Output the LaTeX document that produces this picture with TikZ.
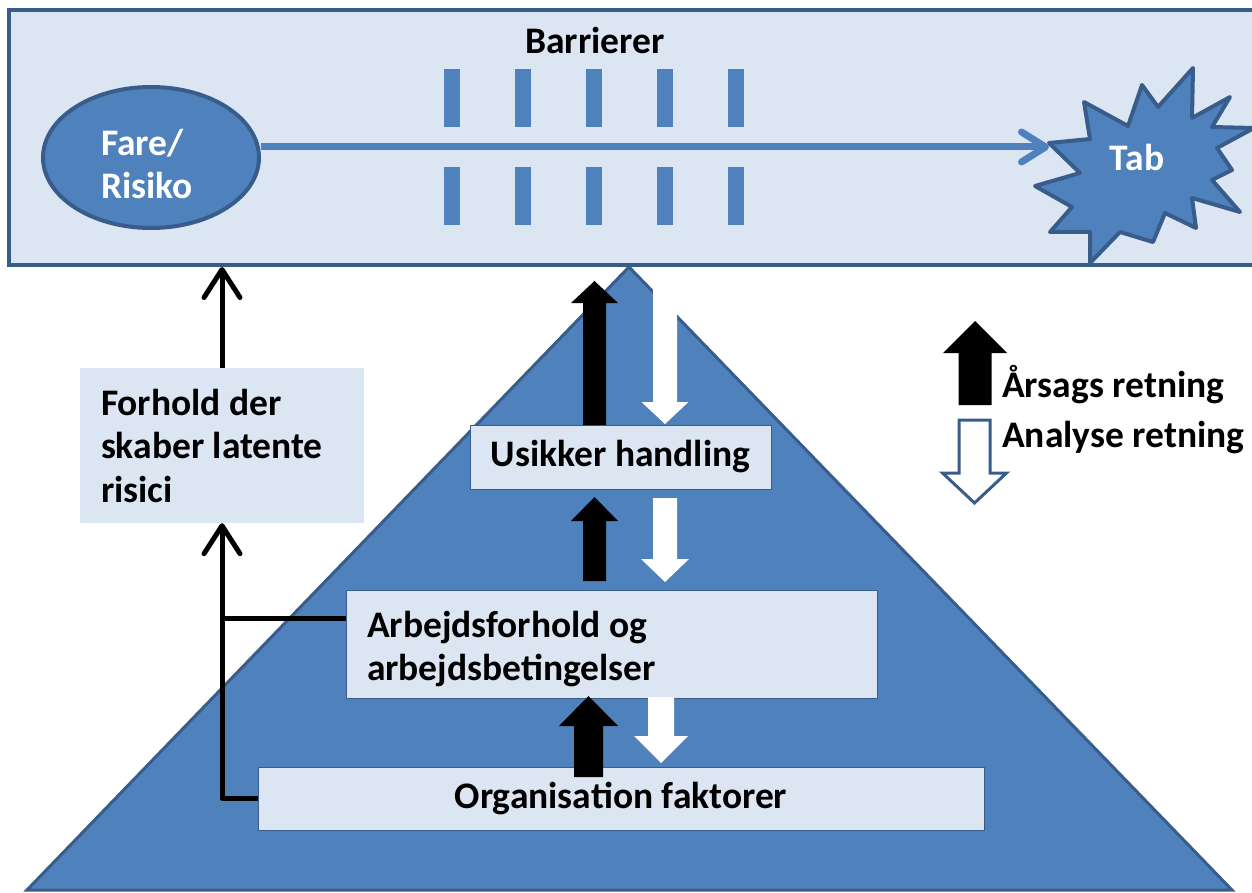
\documentclass[tikz,border=0pt]{standalone}
\usepackage{fontspec}
\setmainfont{Carlito}
\usetikzlibrary{shapes.geometric,arrows.meta}
\definecolor{topfill}{HTML}{DCE6F2}
\definecolor{dblue}{HTML}{385D8A}
\definecolor{mblue}{HTML}{4F81BD}
% block arrow: #1 style, #2 x centre, #3 y tail, #4 y head base, #5 y tip, #6 half shaft, #7 half head
\newcommand\blockarr[7]{\path[#1] ({#2-#6},#3) -- ({#2-#6},#4) -- ({#2-#7},#4) -- (#2,#5) -- ({#2+#7},#4) -- ({#2+#6},#4) -- ({#2+#6},#3) -- cycle;}
\begin{document}
\begin{tikzpicture}[x=1pt,y=-1pt,
  bigfont/.style={font=\bfseries\fontsize{37.5}{43.5}\selectfont},
  lbox/.style={bigfont, fill=topfill, inner sep=0pt, text=black},
  framedbox/.style={lbox, draw=dblue, line width=1pt},
  conn/.style={line width=5pt, black, line join=round, -{Straight Barb[length=28pt,width=36pt,round]}},
  connplain/.style={line width=5pt, black},
  barrier/.style={fill=mblue},
  blackarr/.style={fill=black},
  whitearr/.style={fill=white},
  hollowarr/.style={fill=white, draw=dblue, line width=3pt}
]
\useasboundingbox (0,0) rectangle (1252,893);

% pyramid
\draw[fill=mblue, draw=dblue, line width=3pt] (27,890) -- (629,267) -- (1232,890) -- cycle;

% top band
\node[draw=dblue, fill=topfill, line width=4pt, minimum width=1256pt, minimum height=255pt, inner sep=0pt] (top) at (637,137.5) {};

\node[bigfont, anchor=base] (barr) at (595,54) {Barrierer};

% barriers
\foreach \bx in {444,515,586,657,728}{
  \fill[barrier] (\bx,69) rectangle ++(16,58);
  \fill[barrier] (\bx,167) rectangle ++(16,58);
}

% hazard
\node[ellipse, draw=dblue, fill=mblue, line width=4pt, minimum width=216pt, minimum height=141pt, inner sep=0pt,
      bigfont, text=white, text width=100pt, align=flush left, text depth=31pt] (fare) at (151,157.5) {Fare/\\Risiko};

% loss starburst
\draw[fill=mblue, draw=dblue, line width=4pt, line join=round]
  (1049,143) -- (1090,139) -- (1084,102) -- (1128,126) -- (1142,85) -- (1158,107) -- (1193,68) -- (1192,118)
  -- (1230,97) -- (1212,127) -- (1254,128) -- (1217,148) -- (1232,170) -- (1212,180) -- (1240,212) -- (1192,198)
  -- (1196,228) -- (1165,213) -- (1153,242) -- (1120,232) -- (1090,263) -- (1090,232) -- (1050,232) -- (1072,207)
  -- (1035,186) -- (1080,173) -- cycle;
\coordinate (tabin) at (1049,147);
\node[bigfont, text=white, anchor=base] (tab) at (1137,171) {Tab};

\draw[line width=7pt, mblue, -{Straight Barb[length=24pt,width=30pt,round]}] (fare.east |- tabin) -- (tabin);

% boxes
\node[lbox, minimum width=284pt, minimum height=155pt, text width=242pt, align=flush left] (forhold) at (222,445.5)
  {Forhold der\\skaber latente\\risici};
\node[framedbox, minimum width=301pt, minimum height=64pt] (usikker) at (620.5,457) {Usikker handling};
\node[framedbox, minimum width=531pt, minimum height=108pt, text width=489pt, align=flush left, text depth=40pt] (arbejd) at (611.5,644)
  {Arbejdsforhold og\\arbejdsbetingelser};
\node[framedbox, minimum width=726pt, minimum height=63pt] (org) at (621,798.5) {Organisation faktorer};

% connectors
\draw[conn] (forhold.north) -- (forhold.north |- top.south);
\draw[conn] (org.west) -| (forhold.south);
\draw[connplain] ([yshift=26pt]arbejd.west) -- ([yshift=26pt]arbejd.west -| forhold.south);

% causal (black) and analysis (white) arrows
\blockarr{blackarr}{594.5}{425}{303}{281}{11.5}{23.5}
\blockarr{whitearr}{665}{268}{402}{424}{12}{23.5}
\blockarr{blackarr}{594.5}{581}{521}{497}{11.5}{23.5}
\blockarr{whitearr}{665}{498}{559}{582}{12}{24}
\blockarr{blackarr}{588.5}{777}{726}{696}{14.5}{29.5}
\blockarr{whitearr}{661}{697}{736}{763}{13}{27}

% legend
\blockarr{blackarr}{975}{405}{353}{321}{16.5}{32}
\blockarr{hollowarr}{974.5}{420}{473}{503}{15.5}{32}
\node[bigfont, anchor=base west, inner sep=0pt] (aarsag) at (1002,397) {Årsags retning};
\node[bigfont, anchor=base west, inner sep=0pt] (analyse) at (1002,447) {Analyse retning};
\end{tikzpicture}
\end{document}
